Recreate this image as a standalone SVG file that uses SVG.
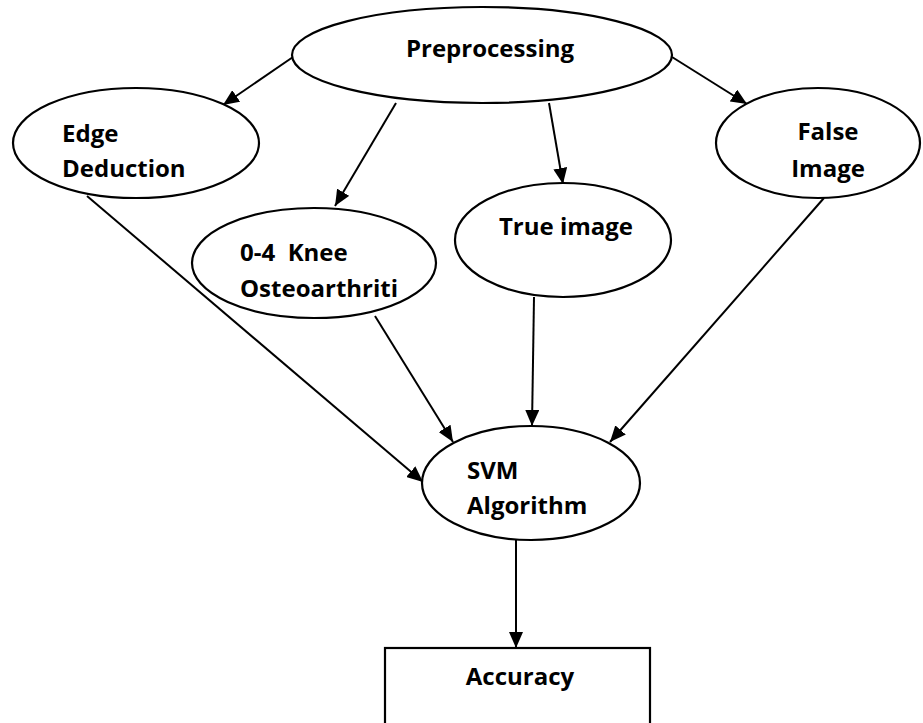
<svg xmlns="http://www.w3.org/2000/svg" width="923" height="723" viewBox="0 0 923 723">
<style>
.shape{fill:#fff;stroke:#000;stroke-width:2.2}
.lbl{font-family:"Open Sans","Noto Sans","Liberation Sans",sans-serif;font-weight:bold;font-size:24px;fill:#000;white-space:pre}
.edge{stroke:#000;stroke-width:2;fill:none;marker-end:url(#arr)}
</style>
<defs>
<marker id="arr" markerUnits="userSpaceOnUse" markerWidth="16" markerHeight="14" viewBox="0 0 16 14" refX="16" refY="7" orient="auto">
<path d="M0,0 L16,7 L0,14 Z" fill="#000"/>
</marker>
</defs>
<rect width="923" height="723" fill="#fff"/>
<g id="connectors">
<line class="edge" x1="293" y1="57" x2="223" y2="105"/>
<line class="edge" x1="396" y1="103" x2="335" y2="206"/>
<line class="edge" x1="549" y1="103" x2="563" y2="184"/>
<line class="edge" x1="672" y1="57" x2="747" y2="104"/>
<line class="edge" x1="87" y1="196" x2="423" y2="482"/>
<line class="edge" x1="375" y1="316" x2="453" y2="442"/>
<line class="edge" x1="534" y1="297" x2="532" y2="426"/>
<line class="edge" x1="824" y1="198" x2="610" y2="442"/>
<line class="edge" x1="516" y1="540" x2="516" y2="648"/>
</g>
<g id="preprocessing">
<ellipse class="shape" cx="482" cy="55" rx="190" ry="48"/>
<text class="lbl" x="490" y="57" text-anchor="middle">Preprocessing</text>
</g>
<g id="edge-deduction">
<ellipse class="shape" cx="136" cy="143" rx="123" ry="55"/>
<text class="lbl" x="62" y="142">Edge</text>
<text class="lbl" x="62" y="177">Deduction</text>
</g>
<g id="knee">
<ellipse class="shape" cx="314" cy="263" rx="122" ry="55"/>
<text class="lbl" x="240" y="261">0-4  Knee</text>
<text class="lbl" x="240" y="297">Osteoarthriti</text>
</g>
<g id="true-image">
<ellipse class="shape" cx="563" cy="240" rx="108" ry="57"/>
<text class="lbl" x="566" y="235" text-anchor="middle">True image</text>
</g>
<g id="false-image">
<ellipse class="shape" cx="818" cy="143" rx="102" ry="55"/>
<text class="lbl" x="828" y="140" text-anchor="middle">False</text>
<text class="lbl" x="828" y="177" text-anchor="middle">Image</text>
</g>
<g id="svm">
<ellipse class="shape" cx="531" cy="483" rx="109" ry="57"/>
<text class="lbl" x="467" y="479">SVM</text>
<text class="lbl" x="467" y="514">Algorithm</text>
</g>
<g id="accuracy">
<rect class="shape" x="385" y="648" width="265" height="90"/>
<text class="lbl" x="520" y="685" text-anchor="middle">Accuracy</text>
</g>
</svg>
